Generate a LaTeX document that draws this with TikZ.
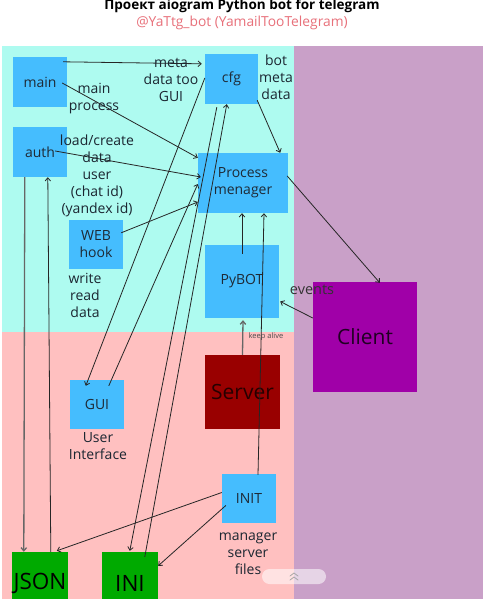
\documentclass[tikz,border=0pt]{standalone}
\usepackage{fontspec}
\setmainfont{Open Sans}
\usetikzlibrary{arrows.meta,calc}
\definecolor{cyanbg}{HTML}{AEFBF0}
\definecolor{pinkbg}{HTML}{FFC0C0}
\definecolor{purplebg}{HTML}{C9A0C8}
\definecolor{boxblue}{HTML}{45BDFE}
\definecolor{serverred}{HTML}{990000}
\definecolor{clientpur}{HTML}{A000A8}
\definecolor{jsongreen}{HTML}{00AA00}
\definecolor{subred}{HTML}{E8707A}
\definecolor{txt}{HTML}{1E2A36}
\tikzset{
  bluebox/.style={fill=boxblue, inner sep=0pt, text=txt, align=center, font=\fontsize{14}{17}\selectfont},
  bigbox/.style={inner sep=0pt, align=center, font=\fontsize{21}{24}\selectfont},
  lbl/.style={inner sep=0pt, text=txt!90!black, align=center, font=\fontsize{14}{17}\selectfont},
  conn/.style={draw=black!85, line width=0.8pt, -{Straight Barb[length=3.2pt,width=5.5pt]}},
  gconn/.style={draw=black!60, line width=1.3pt, -{Straight Barb[length=3.2pt,width=5.5pt]}},
}
\begin{document}
\begin{tikzpicture}[x=1pt,y=-1pt]
\useasboundingbox (0,0) rectangle (484,599);
\clip (0,0) rectangle (484,599);
\fill[white] (0,0) rectangle (484,599);
\fill[cyanbg] (2,46) rectangle (294,332);
\fill[pinkbg] (2,332) rectangle (294,599);
\fill[purplebg] (294,46) rectangle (483,599);

% title
\node[anchor=base, inner sep=0pt, font=\fontsize{13.5}{15}\selectfont\bfseries] (title) at (242,9.5) {Проект aiogram Python bot for telegram};
\node[anchor=base, inner sep=0pt, text=subred, font=\fontsize{13.8}{15}\selectfont] (subtitle) at (242,27) {@YaTtg\_bot (YamailTooTelegram)};

% boxes
\node[bluebox, minimum width=54pt, minimum height=50pt] (main) at (40,82) {main};
\node[bluebox, minimum width=53pt, minimum height=50pt] (cfg) at (231.5,79) {cfg};
\node[bluebox, minimum width=54pt, minimum height=50pt] (auth) at (40,152) {auth};
\node[bluebox, minimum width=90pt, minimum height=60pt] (pm) at (243,183) {Process\\menager};
\node[bluebox, minimum width=54pt, minimum height=49pt] (web) at (96,244.5) {WEB\\hook};
\node[bluebox, minimum width=74pt, minimum height=73pt] (pybot) at (242,281.5) {PyBOT};
\node[bigbox, fill=serverred, text=black!85!red, minimum width=75pt, minimum height=74pt] (server) at (242.5,392) {Server};
\node[bigbox, fill=clientpur, text=black!80!clientpur, minimum width=104pt, minimum height=110pt] (client) at (365,337) {Client};
\node[bluebox, minimum width=54pt, minimum height=49pt] (gui) at (97,404.5) {GUI};
\node[bluebox, minimum width=54pt, minimum height=49pt] (init) at (249,498.5) {INIT};
\node[bigbox, fill=jsongreen, text=black, minimum width=56pt, minimum height=62pt, font=\fontsize{22.5}{24}\selectfont] (json) at (40,583) {JSON};
\node[bigbox, fill=jsongreen, text=black, minimum width=56pt, minimum height=62pt, font=\fontsize{22.5}{24}\selectfont] (ini) at (130,583) {INI};

% connectors
\draw[conn] ($(main.north east)+(-4,5)$) -- ($(cfg.north west)+(-3,10)$);
\draw[conn] ($(main.east)+(-5,1)$) -- ($(pm.north west)+(0,5)$);
\draw[conn] ($(auth.east)+(-12,-1)$) -- ($(pm.west)+(3,-6)$);
\draw[conn] ($(web.north east)+(-2,13)$) -- ($(pm.west)+(0,19)$);
\draw[conn] ($(gui.north west)+(39,6)$) -- ($(pm.west)+(0,1)$);
\draw[conn] ($(cfg.west)+(0,-1)$) -- ($(gui.north west)+(16,6)$);
\draw[conn] ($(cfg.south west)+(12,3)$) -- ($(ini.north west)+(28,-1)$);
\draw[conn] ($(ini.north west)+(43,5)$) -- ($(cfg.south west)+(22,0)$);
\draw[conn] ($(cfg.south east)+(-1,-4)$) -- ($(pm.north east)+(-8,0)$);
\draw[conn] ($(pm.east)+(-1,-7)$) -- ($(client.north west)+(67,1)$);
\draw[conn] ($(pybot.north)+(0,9)$) -- ($(pm.south)+(-1,0)$);
\draw[conn] ($(init.north)+(9,1)$) -- ($(pm.south)+(21,0)$);
\draw[gconn] (server.north) -- ($(pybot.south)+(1,2)$);
\draw[conn] ($(client.west)+(0,-19)$) -- ($(pybot.east)+(1,20)$);
\draw[conn] ($(init.west)+(0,-6)$) -- ($(json.north west)+(45,-1)$);
\draw[conn] ($(init.west)+(4,7)$) -- ($(ini.north east)+(0,14)$);
\draw[gconn] ($(auth.south west)+(12,0)$) -- ($(json.north west)+(12,0)$);
\draw[conn] ($(json.north west)+(39,0)$) -- ($(auth.south west)+(35,0)$);

% labels
\node[lbl] (lmeta) at (171,80) {meta\\data too\\GUI};
\node[lbl] (lbot) at (276,77) {bot\\meta\\data};
\node[lbl] (lmain) at (94,98.5) {main\\process};
\node[lbl] (lload) at (97,176) {load/create\\data\\user\\(chat id)\\(yandex id)};
\node[lbl] (lwrite) at (85,295) {write\\read\\data};
\node[lbl] (lui) at (98,446.5) {User\\Interface};
\node[lbl] (lman) at (248,554) {manager\\server\\files};
\node[lbl, text=black!80, font=\fontsize{14.5}{17}\selectfont] (levents) at (312,290) {events};
\node[lbl, text=black!70, font=\fontsize{7.5}{9}\selectfont] (lkeep) at (266,337) {keep alive};

% bottom pill
\fill[white, opacity=0.55, rounded corners=7.5pt] (262,569) rectangle (326,584);
\draw[black!35, line width=0.8pt, line cap=round] (290,576) -- (294,573) -- (298,576);
\draw[black!35, line width=0.8pt, line cap=round] (290,580) -- (294,577) -- (298,580);
\end{tikzpicture}
\end{document}
